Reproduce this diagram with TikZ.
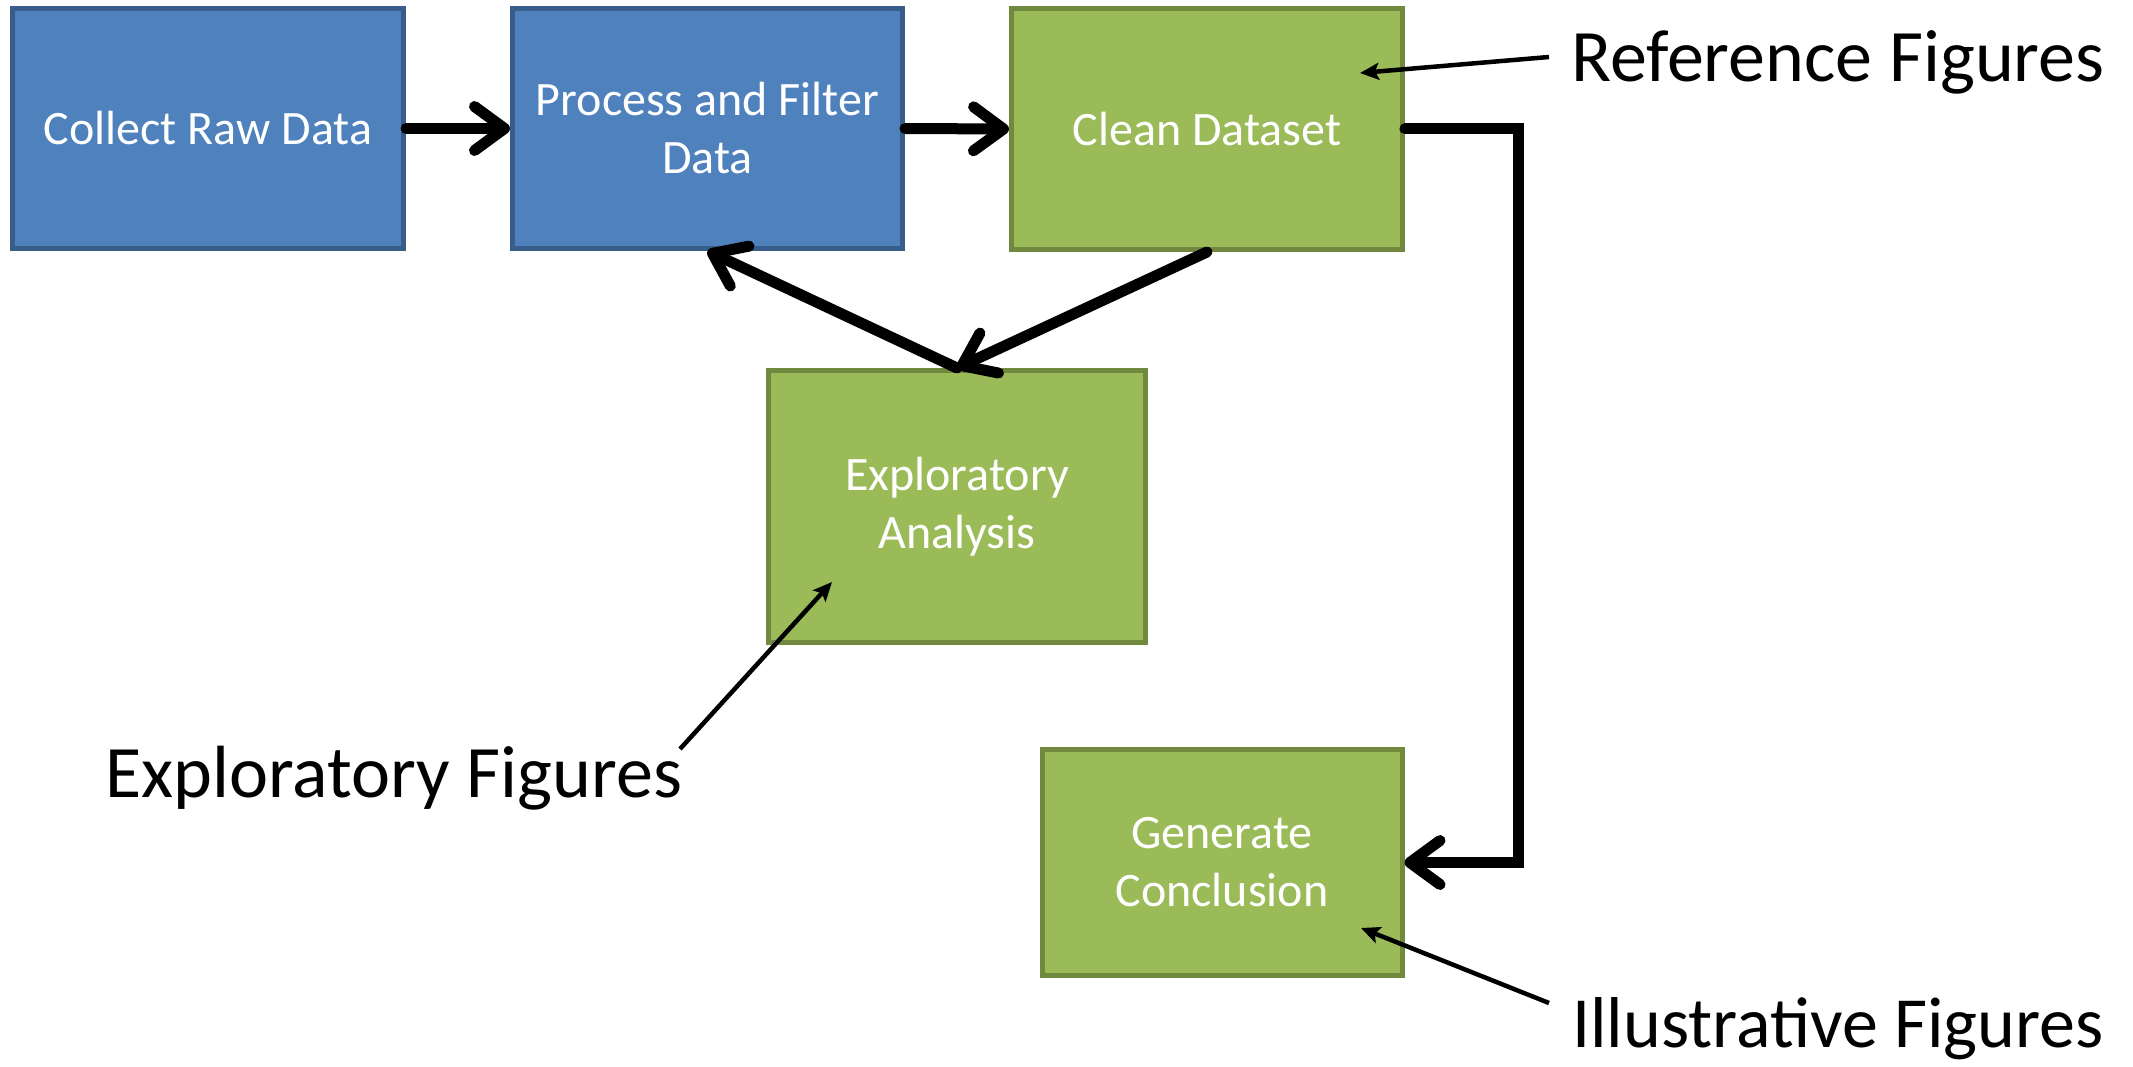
\documentclass[tikz,border=0pt]{standalone}
\usepackage{fontspec}
\setmainfont{Carlito}
\usetikzlibrary{arrows.meta}

\definecolor{blueFill}{HTML}{4F81BD}
\definecolor{blueLine}{HTML}{385D8A}
\definecolor{greenFill}{HTML}{9BBB59}
\definecolor{greenLine}{HTML}{71893F}

\tikzset{
  stepbox/.style={rectangle, line width=5pt, text=white, align=center,
    inner sep=0pt, font=\fontsize{48}{58}\selectfont},
  bluebox/.style={stepbox, fill=blueFill, draw=blueLine},
  greenbox/.style={stepbox, fill=greenFill, draw=greenLine},
  flow/.style={line width=11pt, line cap=round, line join=miter,
    -{Straight Barb[length=30pt, width=44pt, line cap=round, line join=round]}},
  note/.style={line width=4.5pt,
    -{Stealth[length=19pt, width=17pt, inset=4pt]}},
  notetext/.style={anchor=base west, inner sep=0pt,
    font=\fontsize{74}{88}\selectfont}
}

\begin{document}
\begin{tikzpicture}[x=1pt, y=-1pt]
  \useasboundingbox (0,0) rectangle (2133,1067);

  % process steps
  \node[bluebox, minimum width=391pt, minimum height=240pt] (collect) at (208,128.5) {Collect Raw Data};
  \node[bluebox, minimum width=390pt, minimum height=240pt] (process) at (707.5,128.5) {Process and Filter\\Data};
  \node[greenbox, minimum width=391pt, minimum height=241pt] (clean) at (1207,129) {Clean Dataset};
  \node[greenbox, minimum width=377pt, minimum height=272pt] (explore) at (957,506.5) {Exploratory\\Analysis};
  \node[greenbox, minimum width=360pt, minimum height=226pt] (conclude) at (1222,862.5) {Generate\\Conclusion};

  % flow between steps
  \draw[flow] (collect.east) -- (process.west);
  \draw[flow] (process.east) -- (clean.west);
  \draw[flow] (clean.south) -- (explore.north);
  \draw[flow] (explore.north) -- (process.south);
  \draw[flow] (clean.east) -- ++(113,0) |- (conclude.east);

  % figure-type labels
  \node[notetext] (reflab) at (1571,82) {Reference Figures};
  \node[notetext] (explab) at (105,797) {Exploratory Figures};
  \node[notetext, font=\fontsize{72}{86}\selectfont] (illlab) at (1572,1047) {Illustrative Figures};

  \coordinate (reftail) at (1549,57);
  \coordinate (reftip) at (1360,73);
  \coordinate (exptail) at (680,749);
  \coordinate (exptip) at (832,582);
  \coordinate (illtail) at (1549,1003);
  \coordinate (illtip) at (1361,928);

  \draw[note] (reftail) -- (reftip);
  \draw[note] (exptail) -- (exptip);
  \draw[note] (illtail) -- (illtip);
\end{tikzpicture}
\end{document}
